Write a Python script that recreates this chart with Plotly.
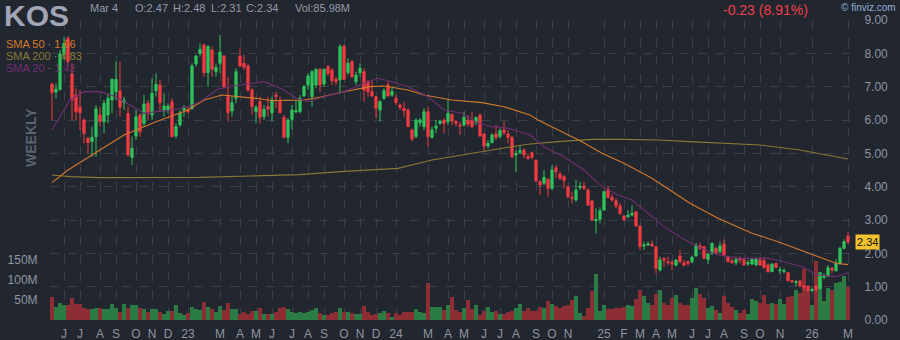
import pandas as pd
import plotly.graph_objects as go

# ---- weekly bars (week ending Friday) ----
week_end = pd.date_range("2022-05-13", periods=200, freq="7D")

opens = [
    7.08, 6.84, 6.92, 7.95, 8.45, 7.38, 6.75, 6.38, 6.00, 5.45,
    5.35, 5.50, 6.15, 5.95, 6.15, 6.60, 6.85, 6.87, 6.52, 6.20,
    4.88, 5.52, 6.15, 5.90, 6.50, 6.15, 6.88, 7.05, 6.27, 6.30,
    6.55, 5.52, 5.85, 6.30, 6.32, 6.35, 7.68, 8.00, 8.25, 7.42,
    8.10, 7.45, 7.70, 7.92, 6.70, 6.27, 6.65, 7.92, 7.70, 7.62,
    6.90, 6.25, 6.55, 6.10, 6.40, 6.22, 6.75, 6.55, 6.08, 5.48,
    6.02, 6.25, 6.25, 6.72, 7.05, 6.70, 7.05, 7.52, 7.08, 7.60,
    7.50, 7.22, 7.20, 8.22, 7.42, 7.75, 7.15, 7.42, 7.45, 7.15,
    6.85, 6.70, 6.30, 6.65, 7.05, 6.75, 6.65, 6.45, 6.35, 6.30,
    5.70, 5.50, 5.92, 5.80, 6.25, 5.48, 5.75, 5.90, 6.00, 5.95,
    6.17, 5.95, 5.85, 5.85, 6.00, 6.00, 5.92, 6.15, 5.58, 5.22,
    5.32, 5.58, 5.50, 5.70, 5.58, 5.48, 4.95, 5.02, 5.10, 4.90,
    5.02, 4.80, 4.15, 4.10, 4.22, 3.95, 4.57, 4.38, 4.30, 4.00,
    3.68, 3.60, 3.98, 4.02, 3.90, 3.57, 2.98, 3.02, 3.30, 3.92,
    3.68, 3.58, 3.42, 3.12, 3.10, 3.15, 3.25, 2.82, 2.22, 2.25,
    2.28, 2.20, 1.50, 1.85, 1.75, 1.72, 1.65, 1.92, 1.72, 1.75,
    1.75, 1.92, 2.22, 2.20, 1.82, 2.00, 2.15, 2.05, 2.28, 1.90,
    1.77, 1.72, 1.85, 1.80, 1.68, 1.68, 1.65, 1.80, 1.78, 1.65,
    1.45, 1.70, 1.48, 1.45, 1.42, 1.18, 1.12, 1.17, 1.02, 1.02,
    0.88, 1.02, 0.95, 1.28, 1.32, 1.55, 1.48, 1.70, 2.15, 2.52,
]
highs = [
    7.12, 7.10, 8.10, 8.50, 8.52, 7.70, 6.95, 6.90, 6.05, 5.50,
    5.80, 6.45, 6.40, 6.60, 6.80, 7.25, 7.75, 7.75, 6.70, 6.40,
    5.50, 6.30, 6.20, 6.75, 6.60, 7.25, 7.40, 7.20, 6.80, 6.50,
    6.65, 5.90, 6.30, 6.45, 6.40, 7.70, 7.95, 8.30, 8.30, 8.25,
    8.20, 7.70, 8.55, 7.95, 7.30, 6.70, 7.55, 8.15, 7.95, 7.70,
    6.95, 6.45, 6.70, 6.45, 6.70, 6.70, 6.85, 6.70, 6.15, 6.05,
    6.45, 6.60, 6.75, 7.05, 7.40, 7.50, 7.55, 7.55, 7.55, 7.65,
    7.55, 7.30, 8.28, 8.25, 7.85, 7.80, 7.45, 7.70, 7.55, 7.20,
    7.20, 6.72, 6.60, 6.95, 7.15, 7.00, 6.75, 6.50, 6.55, 6.35,
    5.75, 6.05, 6.05, 6.35, 6.40, 5.80, 6.00, 6.00, 6.05, 6.60,
    6.20, 6.00, 5.95, 6.25, 6.15, 6.25, 6.10, 6.20, 5.60, 5.40,
    5.60, 5.85, 5.75, 5.95, 5.70, 5.52, 5.10, 5.25, 5.15, 5.00,
    5.05, 4.80, 4.20, 4.50, 4.25, 4.65, 4.65, 4.45, 4.35, 4.05,
    3.85, 4.20, 4.15, 4.15, 3.95, 3.60, 3.35, 3.38, 3.88, 4.02,
    3.78, 3.65, 3.50, 3.15, 3.30, 3.45, 3.25, 2.82, 2.35, 2.35,
    2.38, 2.20, 1.90, 1.88, 1.90, 1.80, 1.82, 2.10, 1.80, 1.78,
    1.92, 2.30, 2.32, 2.20, 2.02, 2.32, 2.20, 2.35, 2.42, 1.92,
    1.85, 1.90, 1.90, 1.85, 1.80, 1.82, 1.88, 1.88, 1.88, 1.70,
    1.70, 1.72, 1.60, 1.55, 1.42, 1.20, 1.20, 1.20, 1.05, 1.02,
    0.98, 1.05, 1.45, 1.40, 1.65, 1.60, 1.82, 2.20, 2.42, 2.65,
]
lows = [
    6.00, 6.65, 6.88, 7.80, 7.60, 6.00, 6.00, 5.70, 5.30, 5.00,
    4.90, 4.90, 5.80, 5.60, 5.90, 6.20, 6.60, 6.10, 6.30, 4.90,
    4.65, 5.40, 5.50, 5.80, 6.00, 6.00, 6.70, 6.25, 6.10, 6.20,
    5.50, 5.45, 5.80, 6.10, 6.20, 6.30, 7.60, 7.90, 7.30, 7.00,
    7.30, 7.30, 7.40, 6.95, 5.95, 6.10, 6.50, 7.60, 7.50, 6.85,
    6.15, 5.90, 5.90, 6.00, 6.10, 5.95, 6.35, 6.20, 5.45, 5.30,
    5.72, 6.20, 6.20, 6.70, 6.90, 6.40, 6.95, 6.85, 7.00, 7.30,
    7.05, 7.05, 6.80, 7.20, 7.35, 7.25, 7.05, 7.30, 6.55, 6.70,
    6.70, 6.05, 5.95, 6.60, 6.70, 6.70, 6.45, 6.30, 6.10, 5.80,
    5.35, 5.45, 5.80, 5.70, 5.20, 5.45, 5.60, 5.85, 5.60, 5.85,
    5.85, 5.80, 5.55, 5.80, 5.80, 5.75, 5.85, 5.50, 5.08, 5.15,
    5.30, 5.40, 5.45, 5.55, 5.30, 4.85, 4.45, 4.98, 4.85, 4.80,
    4.82, 4.15, 3.75, 4.05, 3.70, 3.90, 4.25, 4.20, 3.95, 3.65,
    3.50, 3.55, 3.90, 3.90, 3.42, 3.00, 2.60, 2.90, 3.28, 3.65,
    3.55, 3.35, 3.15, 2.98, 3.05, 3.10, 2.80, 2.10, 2.10, 2.22,
    2.20, 1.40, 1.45, 1.60, 1.65, 1.50, 1.60, 1.70, 1.60, 1.62,
    1.70, 1.90, 2.10, 1.82, 1.68, 1.95, 1.98, 2.00, 1.92, 1.72,
    1.68, 1.65, 1.70, 1.65, 1.62, 1.65, 1.62, 1.62, 1.55, 1.42,
    1.45, 1.55, 1.38, 1.40, 1.15, 1.10, 1.02, 0.98, 0.90, 0.85,
    0.85, 0.85, 0.92, 1.22, 1.28, 1.40, 1.45, 1.65, 2.12, 2.28,
]
closes = [
    6.82, 6.93, 7.98, 8.30, 7.75, 6.60, 6.25, 6.22, 5.60, 5.32,
    5.48, 6.34, 5.95, 6.50, 6.65, 7.22, 7.22, 6.38, 6.60, 4.95,
    5.15, 6.10, 5.65, 6.48, 6.20, 6.80, 7.07, 6.52, 6.42, 6.42,
    5.50, 5.80, 6.20, 6.37, 6.25, 7.62, 7.92, 8.12, 7.42, 8.20,
    7.52, 7.58, 8.03, 7.00, 6.22, 6.52, 7.45, 7.62, 7.58, 6.90,
    6.40, 6.38, 6.08, 6.32, 6.33, 6.60, 6.70, 6.22, 5.48, 6.00,
    6.30, 6.28, 6.65, 7.00, 7.32, 7.45, 7.52, 7.05, 7.52, 7.40,
    7.18, 7.15, 8.20, 7.22, 7.70, 7.30, 7.35, 7.55, 6.90, 6.85,
    6.72, 6.35, 6.55, 6.88, 6.72, 6.85, 6.52, 6.38, 6.28, 5.80,
    5.43, 6.00, 6.00, 6.25, 5.50, 5.70, 5.82, 5.97, 5.90, 6.20,
    5.97, 5.90, 5.82, 6.08, 5.88, 5.80, 6.08, 5.52, 5.22, 5.30,
    5.55, 5.48, 5.68, 5.62, 5.48, 4.90, 5.00, 5.08, 4.95, 4.85,
    4.88, 4.17, 4.05, 4.28, 3.95, 4.50, 4.45, 4.25, 4.18, 3.70,
    3.65, 3.90, 4.02, 3.95, 3.45, 3.00, 3.02, 3.28, 3.85, 3.68,
    3.60, 3.42, 3.20, 3.00, 3.15, 3.20, 2.82, 2.20, 2.25, 2.28,
    2.22, 1.55, 1.80, 1.80, 1.72, 1.68, 1.80, 1.75, 1.65, 1.70,
    1.88, 2.25, 2.15, 1.85, 1.98, 2.30, 2.02, 2.22, 1.95, 1.75,
    1.72, 1.82, 1.80, 1.65, 1.72, 1.82, 1.82, 1.65, 1.57, 1.45,
    1.68, 1.58, 1.50, 1.48, 1.18, 1.15, 1.15, 1.02, 0.98, 0.88,
    0.92, 0.92, 1.38, 1.32, 1.57, 1.50, 1.70, 2.15, 2.35, 2.34,
]
# weekly volume, millions of shares
volume_m = [
    57, 33, 42, 37, 37, 54, 40, 40, 29, 27,
    27, 29, 29, 27, 27, 40, 29, 21, 40, 29,
    37, 37, 29, 27, 21, 27, 27, 21, 15, 23,
    23, 37, 18, 12, 18, 33, 27, 25, 45, 32,
    27, 21, 35, 25, 43, 27, 27, 15, 21, 15,
    23, 23, 29, 16, 15, 16, 21, 31, 33, 27,
    20, 18, 20, 17, 20, 25, 29, 17, 12, 12,
    17, 21, 30, 20, 21, 18, 16, 15, 35, 20,
    12, 15, 18, 23, 17, 8, 17, 12, 21, 20,
    21, 27, 20, 18, 93, 32, 32, 33, 25, 37,
    57, 25, 21, 29, 50, 27, 37, 12, 23, 32,
    21, 23, 15, 15, 21, 23, 29, 40, 23, 29,
    23, 23, 32, 29, 47, 40, 35, 29, 35, 37,
    50, 60, 18, 10, 29, 73, 115, 23, 37, 27,
    27, 29, 29, 33, 37, 35, 52, 75, 60, 43,
    37, 65, 75, 42, 37, 54, 62, 43, 37, 37,
    54, 79, 65, 54, 29, 35, 25, 18, 60, 42,
    33, 25, 18, 25, 15, 52, 48, 43, 62, 40,
    42, 40, 52, 40, 57, 60, 75, 67, 127, 75,
    37, 148, 121, 48, 79, 75, 93, 96, 110, 82,
]

# ---- moving averages (week number, value) ----
sma50_wk = [0, 4, 18, 26, 34, 38, 42.5, 51, 55, 63, 67.5, 73, 79.5, 83, 89, 93, 100,
            107.5, 113, 119.5, 121.5, 132.5, 137.5, 143, 150, 155, 159.5, 166.5,
            171, 175, 181.5, 186, 191.5, 196, 199]
sma50_val = [4.12, 4.5, 5.55, 5.95, 6.3, 6.6, 6.75, 6.65, 6.58, 6.6, 6.7, 6.85, 7.0,
             7.02, 6.9, 6.75, 6.6, 6.52, 6.4, 6.15, 6.0, 5.35, 5.0, 4.7, 4.25, 3.85,
             3.5, 3.05, 2.8, 2.6, 2.35, 2.15, 1.9, 1.7, 1.66]
sma200_wk = [0, 4.5, 12, 24.5, 37, 49.5, 62, 72, 78, 86.5, 95, 103, 110, 116, 119.5,
             126.5, 135, 143, 151.5, 159.5, 177, 187, 199]
sma200_val = [4.35, 4.3, 4.27, 4.28, 4.28, 4.32, 4.36, 4.45, 4.5, 4.55, 4.8, 4.95,
              5.1, 5.22, 5.28, 5.35, 5.42, 5.42, 5.4, 5.35, 5.25, 5.1, 4.83]
sma20_wk = [0, 4.5, 8, 12, 16, 20, 23, 26, 30, 34, 37, 41.5, 47, 53, 57.5, 61, 64, 68,
            73, 78, 81.5, 85, 89, 94, 98, 102.5, 106.5, 110, 114, 119.5, 123, 128,
            133, 137.5, 141.5, 145, 148, 153, 157.5, 161.5, 166.5, 172, 179, 183,
            187.5, 191.5, 196, 199]
sma20_val = [5.7, 6.6, 6.85, 6.85, 6.7, 6.4, 6.2, 6.25, 6.3, 6.4, 6.55, 6.93, 7.05,
             7.15, 6.93, 6.65, 6.55, 6.7, 6.85, 7.1, 7.25, 7.15, 7.0, 6.7, 6.3, 6.2,
             5.9, 5.8, 5.75, 5.55, 5.2, 4.9, 4.5, 4.0, 3.75, 3.6, 3.3, 2.8, 2.45, 2.2,
             1.95, 1.85, 1.85, 1.75, 1.6, 1.35, 1.3, 1.42]

# ---- month labels shown along the time axis ----
tick_months = [
    "2022-06", "2022-07", "2022-08", "2022-09", "2022-10", "2022-11", "2022-12",
    "2023-01", "2023-03", "2023-04", "2023-05", "2023-06", "2023-07", "2023-08",
    "2023-09", "2023-10", "2023-11", "2023-12", "2024-01", "2024-03", "2024-04",
    "2024-05", "2024-06", "2024-07", "2024-08", "2024-09", "2024-10", "2024-11",
    "2025-01", "2025-02", "2025-03", "2025-04", "2025-05", "2025-06", "2025-07",
    "2025-08", "2025-09", "2025-10", "2025-11", "2026-01", "2026-03",
]
tick_text = [
    "J", "J", "A", "S", "O", "N", "D",
    "23", "M", "A", "M", "J", "J", "A",
    "S", "O", "N", "D", "24", "M", "A",
    "M", "J", "J", "A", "S", "O", "N",
    "25", "F", "M", "A", "M", "J", "J",
    "A", "S", "O", "N", "26", "M",
]

BG = "#22262f"
GRID = "#3a3f4a"
AXIS_TXT = "#8f95a1"
UP, DOWN = "#2fc35b", "#f03a40"
VOL_UP, VOL_DOWN = "#2b7b45", "#8c2e34"
C_SMA50, C_SMA200, C_SMA20 = "#d4792c", "#8a7836", "#6f3070"
FONT = "Liberation Sans, Arial, sans-serif"

ym = week_end.strftime("%Y-%m")
tickvals = [week_end[ym == m][0] for m in tick_months]
week = pd.Timedelta(days=7)
start = week_end[0]


def wk_to_date(ws):
    return [start + w * week for w in ws]


vol_colors = [VOL_UP if c >= o else VOL_DOWN for o, c in zip(opens, closes)]

fig = go.Figure()
fig.add_trace(go.Bar(
    x=week_end, y=[v * 1e6 for v in volume_m], marker=dict(color=vol_colors, line=dict(width=0)),
    yaxis="y", showlegend=False, hoverinfo="skip",
))
fig.add_trace(go.Candlestick(
    x=week_end, open=opens, high=highs, low=lows, close=closes, yaxis="y2",
    increasing=dict(line=dict(color=UP, width=1), fillcolor=UP),
    decreasing=dict(line=dict(color=DOWN, width=1), fillcolor=DOWN),
    whiskerwidth=0, showlegend=False,
))
for ws, vs, col in [(sma200_wk, sma200_val, C_SMA200), (sma50_wk, sma50_val, C_SMA50),
                    (sma20_wk, sma20_val, C_SMA20)]:
    fig.add_trace(go.Scatter(x=wk_to_date(ws), y=vs, mode="lines", yaxis="y2",
                             line=dict(color=col, width=1.1), showlegend=False,
                             hoverinfo="skip"))

L, R, T, B = 50, 850, 20, 320


def px(x):
    return (x - L) / (R - L)


def py(y):
    return (B - y) / (B - T)


ann = []


def text(x, y, s, size, color, anchor="left", bold=False, **kw):
    ann.append(dict(
        x=px(x), y=py(y), xref="paper", yref="paper", text=f"<b>{s}</b>" if bold else s,
        showarrow=False, xanchor=anchor, yanchor="middle",
        font=dict(size=size, color=color, family=FONT), **kw))


text(2, 15, "KOS", 30, "#a0a6b4", bold=True)
text(88, 8, "Mar 4", 11, "#959ba7")
text(133, 8, "O:2.47", 11, "#959ba7")
text(171, 8, "H:2.48", 11, "#959ba7")
text(209, 8, "L:2.31", 11, "#959ba7")
text(244, 8, "C:2.34", 11, "#959ba7")
text(293, 8, "Vol:85.98M", 11, "#959ba7")
text(810, 10, "-0.23 (8.91%)", 14, "#f0404a", anchor="right")
text(898, 7, "© finviz.com", 10, "#8db2d6", anchor="right")
text(31, 138, "WEEKLY", 14, "#5c626e", anchor="center", bold=True, textangle=-90)

sep = "<span style='color:#8a8f99'> · </span>"
text(4, 44, f"SMA 50{sep}{sma50_val[-1]:.2f}", 11, C_SMA50)
text(4, 56, f"SMA 200{sep}{sma200_val[-1]:.2f}", 11, C_SMA200)
text(4, 68, f"SMA 20{sep}{sma20_val[-1]:.2f}", 11, C_SMA20)

ann.append(dict(
    x=px(855), y=closes[-1], xref="paper", yref="y2", text=f"{closes[-1]:.2f}",
    showarrow=False, xanchor="left", yanchor="middle", bgcolor="#f3c22f",
    borderpad=1, font=dict(size=11, color="#111111", family=FONT)))

fig.update_layout(
    width=900, height=340, margin=dict(l=L, r=900 - R, t=T, b=340 - B, autoexpand=False),
    paper_bgcolor=BG, plot_bgcolor=BG, font=dict(family=FONT, color=AXIS_TXT, size=12),
    bargap=0.0, boxgap=0.2, hovermode=False, annotations=ann, showlegend=False,
    xaxis=dict(
        type="date", range=[start - week / 2, start + 199.5 * week], automargin=False,
        tickvals=tickvals, ticktext=tick_text, showgrid=True, gridcolor=GRID,
        griddash="dash", gridwidth=1, zeroline=False, showline=False,
        ticks="outside", ticklen=3, tickcolor=BG,
        tickfont=dict(size=12, color=AXIS_TXT), rangeslider=dict(visible=False),
    ),
    yaxis=dict(
        range=[0, 750e6], tickvals=[50e6, 100e6, 150e6], ticktext=["50M", "100M", "150M"],
        showgrid=False, zeroline=False, side="left", ticks="outside", ticklen=9,
        tickcolor=BG, tickfont=dict(size=12, color=AXIS_TXT), automargin=False,
    ),
    yaxis2=dict(
        range=[0, 9], overlaying="y", side="right", tickvals=list(range(10)),
        tickformat=".2f", showgrid=True, gridcolor=GRID, griddash="dash", zeroline=False,
        ticks="outside", ticklen=11, tickcolor=BG, tickfont=dict(size=12, color=AXIS_TXT),
        automargin=False,
    ),
)

fig.write_html("out.html")
